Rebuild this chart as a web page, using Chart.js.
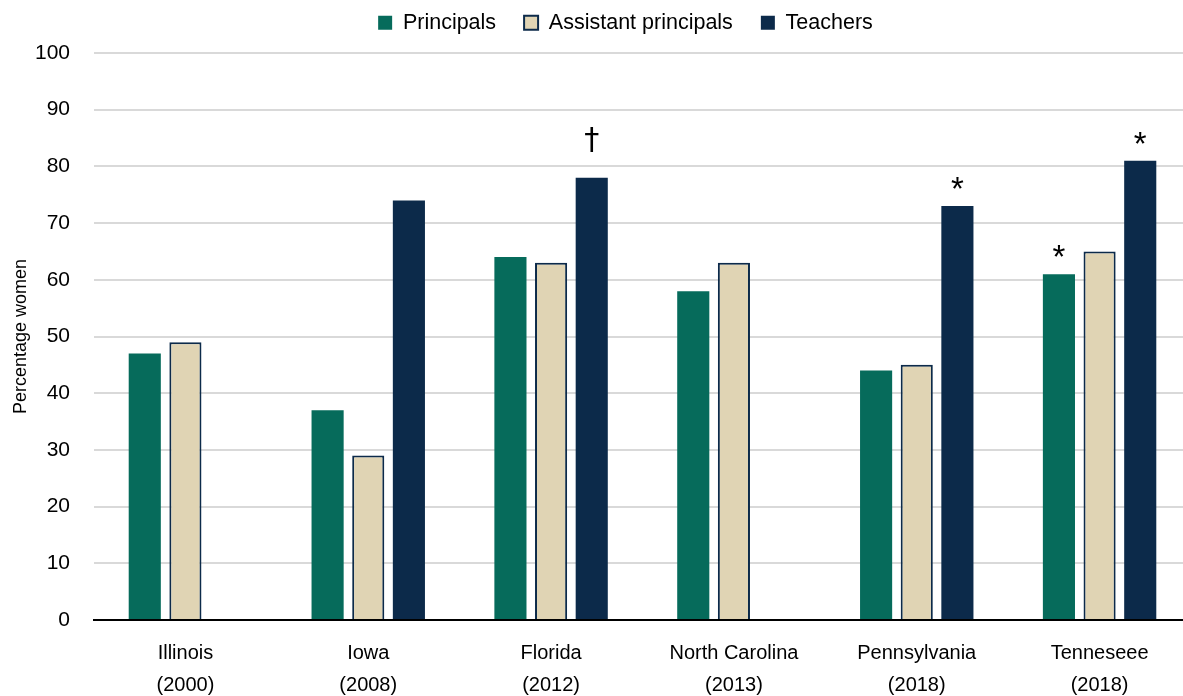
<!DOCTYPE html>
<html>
<head>
<meta charset="utf-8">
<script src="https://cdn.jsdelivr.net/npm/chart.js@4/dist/chart.umd.min.js"></script>
<style>
  html, body { margin: 0; padding: 0; background: #fff; overflow: hidden; }
  #wrap { width: 1191px; height: 696px; }
</style>
</head>
<body>
<div id="wrap"><canvas id="myBarGraph"></canvas></div>
<script>
const states = [["Illinois", "(2000)"], ["Iowa", "(2008)"], ["Florida", "(2012)"], ["North Carolina", "(2013)"], ["Pennsylvania", "(2018)"], ["Tenneseee", "(2018)"]];
const principals = [47, 37, 64, 58, 44, 61];
const assistantPrincipals = [49, 29, 63, 63, 45, 65];
const teachers = [null, 74, 78, null, 73, 81];
const yTicks = [0, 10, 20, 30, 40, 50, 60, 70, 80, 90, 100];
// significance marks: [dataset index, category index, symbol]
const marks = [[2, 2, "\u2020"], [2, 4, "*"], [0, 5, "*"], [2, 5, "*"]];

const markPlugin = {
    id: "marks",
    afterDatasetsDraw(chart) {
        const ctx = chart.ctx;
        ctx.save();
        ctx.fillStyle = "#000";
        ctx.textAlign = "center";
        ctx.textBaseline = "alphabetic";
        marks.forEach(([ds, i, sym]) => {
            const bar = chart.getDatasetMeta(ds).data[i];
            if (!bar) return;
            if (sym === "*") {
                ctx.font = "33px 'Liberation Sans', Arial";
                ctx.fillText(sym, bar.x, bar.y - 6);
            } else {
                ctx.font = "30px 'DejaVu Sans', 'Liberation Sans'";
                ctx.fillText(sym, bar.x, bar.y - 29);
            }
        });
        ctx.restore();
    }
};

// fixed legend height, legend shifted a bit right like the original
const legendFit = {
    id: "legendFit",
    beforeInit(chart) {
        const fit = chart.legend.fit;
        chart.legend.fit = function () {
            fit.bind(chart.legend)();
            this.height = 69;
        };
    },
    afterLayout(chart) {
        chart.legend.left += 30;
        chart.legend.right += 30;
    }
};

new Chart("myBarGraph", {
    type: "bar",
    data: {
        labels: states,
        datasets: [{
            label: "Principals",
            data: principals,
            backgroundColor: "#066B5B",
            borderColor: "#066B5B",
            borderWidth: 0
        }, {
            label: "Assistant principals",
            data: assistantPrincipals,
            backgroundColor: "#E0D4B4",
            borderColor: "#0C2A4A",
            borderWidth: 2
        }, {
            label: "Teachers",
            data: teachers,
            backgroundColor: "#0C2A4A",
            borderColor: "#0C2A4A",
            borderWidth: 0
        }]
    },
    options: {
        responsive: true,
        maintainAspectRatio: false,
        animation: false,
        layout: { padding: { top: -16, left: 0, right: 0, bottom: 0 } },
        datasets: {
            bar: { categoryPercentage: 0.667, barPercentage: 0.79 }
        },
        plugins: {
            legend: {
                display: true,
                position: "top",
                labels: {
                    boxWidth: 14,
                    boxHeight: 14,
                    padding: 28,
                    color: "#000",
                    font: { family: "'Liberation Sans', Arial", size: 21.5 }
                }
            },
            title: { display: false },
            tooltip: { enabled: false }
        },
        scales: {
            x: {
                grid: { display: false },
                border: { display: true, color: "#000", width: 2 },
                ticks: {
                    color: "#000",
                    padding: 9,
                    maxRotation: 0,
                    autoSkip: false,
                    font: { family: "'Liberation Sans', Arial", size: 20, lineHeight: 1.6 }
                },
                afterFit: s => { s.height = 76; }
            },
            y: {
                min: 0,
                max: 100,
                afterBuildTicks: s => { s.ticks = yTicks.map(v => ({ value: v })); },
                grid: {
                    drawTicks: false,
                    lineWidth: 2,
                    color: c => c.tick && c.tick.value === 0 ? "#000" : "#D9D9D9"
                },
                border: { display: false },
                ticks: {
                    color: "#000",
                    padding: 24,
                    font: { family: "'Liberation Sans', Arial", size: 21 }
                },
                title: {
                    display: true,
                    text: "Percentage women",
                    color: "#000",
                    padding: { top: 10, bottom: 0 },
                    font: { family: "'Liberation Sans', Arial", size: 18 }
                },
                afterFit: s => { s.width = 94; }
            }
        }
    },
    plugins: [markPlugin, legendFit]
});
</script>
</body>
</html>
